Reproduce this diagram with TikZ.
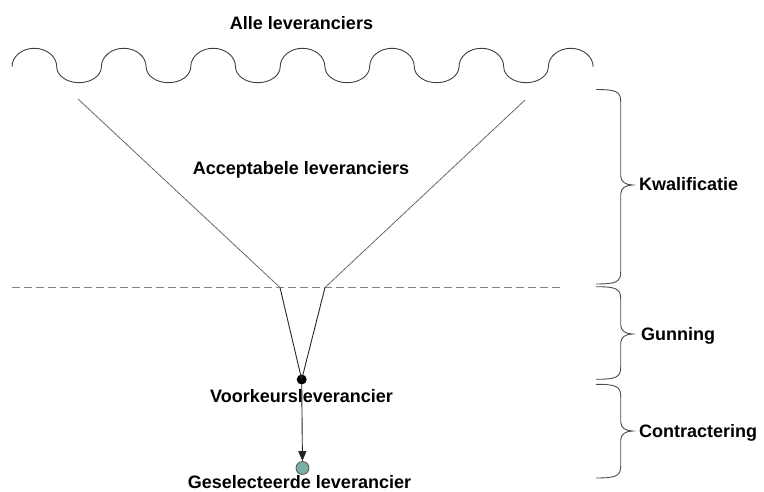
\documentclass[tikz,border=0pt]{standalone}
\usepackage{fontspec}
\setmainfont{Liberation Sans}
\usetikzlibrary{arrows.meta}

\definecolor{linegray}{RGB}{105,105,105}
\definecolor{dashgray}{RGB}{130,130,130}
\definecolor{selteal}{RGB}{122,176,164}

% curly brace spanning top..bottom with its point at the middle value
\newcommand{\stagebrace}[3]{%
  \draw[bracestyle] (596,#1) .. controls (616,#1) and (620.7,#1+2) .. (620.7,#1+12)
    -- (620.7,#2-9) .. controls (620.7,#2-3) and (626,#2) .. (632.7,#2)
    .. controls (626,#2) and (620.7,#2+3) .. (620.7,#2+9)
    -- (620.7,#3-12) .. controls (620.7,#3-2) and (616,#3) .. (596,#3);}

\begin{document}
\begin{tikzpicture}[x=1pt,y=-1pt,
  lbl/.style={font=\fontsize{18}{20}\selectfont\bfseries, inner sep=0pt, anchor=base},
  sidelbl/.style={lbl, anchor=base west},
  thinline/.style={draw=linegray, line width=0.8pt},
  wave/.style={draw=black!75, line width=0.9pt},
  bracestyle/.style={draw=black!70, line width=0.9pt},
  funnel/.style={draw=black!85, line width=0.9pt},
  phase/.style={draw=dashgray, line width=0.9pt, dash pattern=on 8pt off 4pt},
  prefdot/.style={circle, fill=black, inner sep=0pt, minimum size=10pt},
  seldot/.style={circle, fill=selteal, draw=black!70, line width=0.7pt, inner sep=0pt, minimum size=13pt}]

\useasboundingbox (0,0) rectangle (764,492);

% row of suppliers
\draw[wave] (12,66.7)
  \foreach \k in {1,...,6} {
    arc[start angle=180, end angle=360, x radius=22.35, y radius=18.4]
    arc[start angle=180, end angle=0, x radius=22.35, y radius=16]
  }
  arc[start angle=180, end angle=360, x radius=22.35, y radius=18.4];

\node[lbl] (alle) at (301.5,29.3) {Alle leveranciers};
\node[lbl] (accept) at (301,175) {Acceptabele leveranciers};

% funnel
\coordinate (lt) at (78,99);
\coordinate (rt) at (525,100);
\coordinate (lb) at (280,287.5);
\coordinate (rb) at (325,287.5);
\coordinate (dl) at (12,287.5);
\coordinate (dr) at (562,287.5);

\draw[thinline] (lt) -- (lb);
\draw[thinline] (rt) -- (rb);
\draw[phase] (dl) -- (dr);

\node[lbl] (voorkeur) at (301.5,402) {Voorkeursleverancier};
\node[lbl] (geselect) at (299.5,488.5) {Geselecteerde leverancier};

\node[prefdot] (pref) at (301.7,379.5) {};
\node[seldot] (sel) at (302.5,468) {};

\draw[funnel] (lb) -- (pref.center);
\draw[funnel] (rb) -- (pref.center);
\draw[funnel, -{Triangle[length=10pt, width=8pt]}] (pref) -- (sel);

% phases
\stagebrace{89.5}{185}{284}
\stagebrace{286.7}{334}{379.3}
\stagebrace{384.3}{431}{478}

\node[sidelbl] (kwal) at (639,190.7) {Kwalificatie};
\node[sidelbl] (gun) at (641,340.7) {Gunning};
\node[sidelbl] (contr) at (639,437) {Contractering};
\end{tikzpicture}
\end{document}
